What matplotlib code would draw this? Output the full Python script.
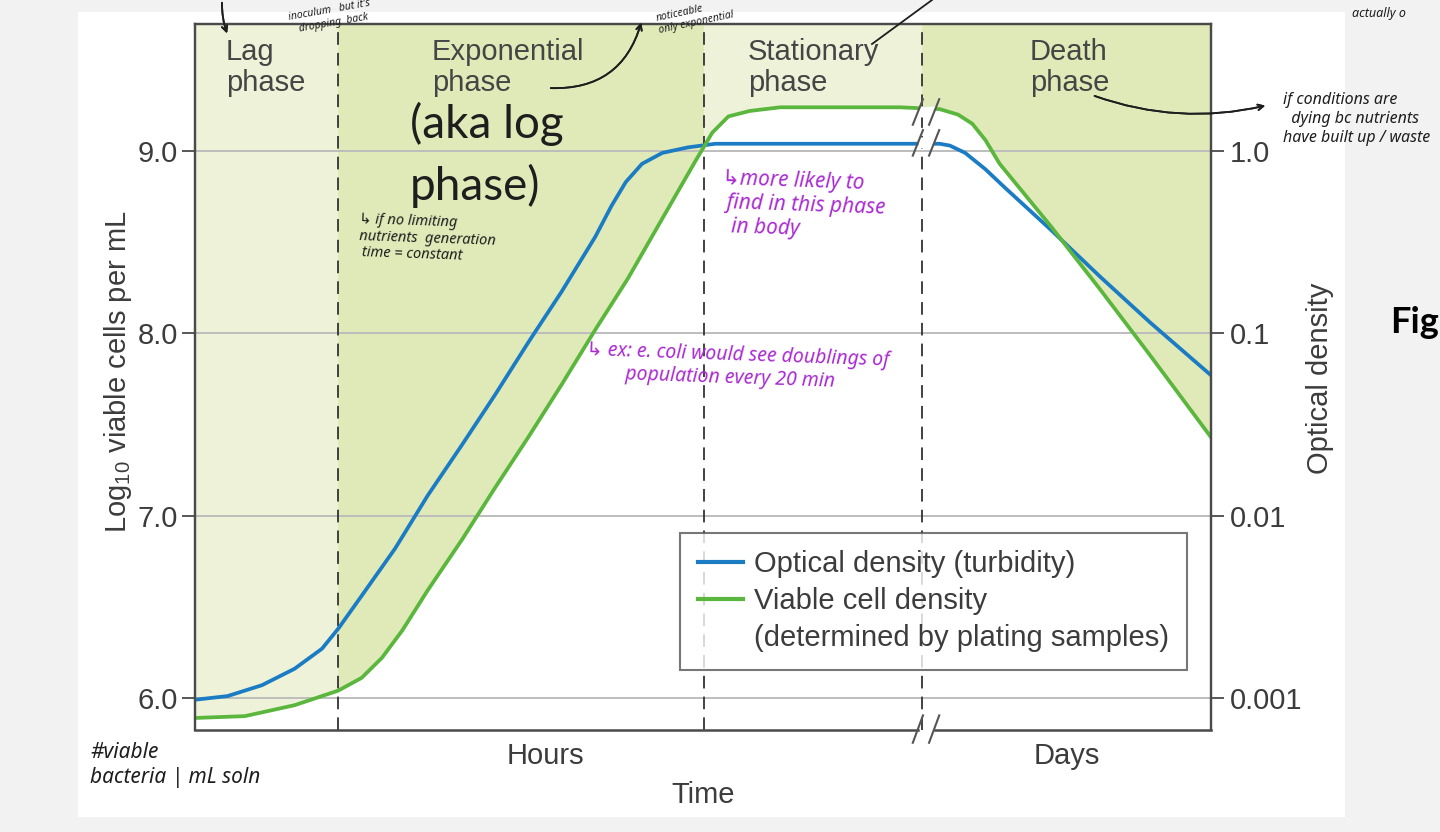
import numpy as np
import matplotlib.pyplot as plt
from matplotlib.lines import Line2D
from matplotlib.patches import Rectangle, Polygon

plt.rcParams['font.family'] = ['Liberation Sans', 'DejaVu Sans']
plt.rcParams['mathtext.default'] = 'regular'

W, H = 1440, 832

# time in arbitrary units (0-100), hours then days after the break
phase_edges = [0, 14.1, 50.1, 71.6, 100]
phase_names = ["Lag\nphase", "Exponential\nphase", "Stationary\nphase", "Death\nphase"]
phase_shade = ["#edf2d8", "#e0eab8", "#edf2d8", "#e0eab8"]

od_t = [0.0, 3.2, 6.6, 9.8, 12.5, 14.1, 16.4, 19.7, 22.9, 26.3, 29.5, 32.8, 36.1,
        39.4, 41.0, 42.4, 44.0, 46.0, 48.5, 51.2, 60.0, 73.3, 74.3, 75.8, 77.8, 79.7,
        84.2, 89.1, 94.0, 100.0]
od_y = [5.99, 6.01, 6.07, 6.16, 6.27, 6.38, 6.56, 6.82, 7.11, 7.39, 7.66, 7.95, 8.23,
        8.53, 8.70, 8.83, 8.93, 8.99, 9.02, 9.04, 9.04, 9.04, 9.03, 8.99, 8.90, 8.80,
        8.57, 8.31, 8.06, 7.77]

# viable cell density (plate counts)
via_t = [0.0, 4.9, 9.8, 14.1, 16.4, 18.4, 20.4, 22.9, 26.3, 29.5, 32.8, 36.1, 39.4,
         42.6, 46.0, 49.2, 50.9, 52.5, 54.6, 57.6, 69.4, 73.3, 75.1, 76.5, 77.8,
         79.2, 84.2, 89.1, 94.0, 100.0]
via_y = [5.89, 5.90, 5.96, 6.04, 6.11, 6.22, 6.37, 6.59, 6.87, 7.15, 7.43, 7.72, 8.02,
         8.30, 8.63, 8.94, 9.10, 9.19, 9.22, 9.24, 9.24, 9.23, 9.20, 9.15, 9.06,
         8.93, 8.59, 8.24, 7.88, 7.43]

left_ticks = [6.0, 7.0, 8.0, 9.0]
right_labels = ["0.001", "0.01", "0.1", "1.0"]

blue = "#1b7cc4"
green = "#5ab63c"
txt = "#3c3c3c"
purple = "#a82bd0"
ink = "#1e1e1e"
YMIN, YMAX = 5.824, 9.697
FS = 21


def fx(px):
    return px / W


def fy(py):
    return 1 - py / H


fig = plt.figure(figsize=(14.4, 8.32), dpi=100, facecolor="#f2f2f2")
fig.patches.append(Rectangle((fx(78), fy(817)), (1345 - 78) / W, (817 - 12) / H,
                             transform=fig.transFigure, facecolor="white",
                             edgecolor="none", zorder=-10))

ax = fig.add_axes([fx(195), fy(730), 1016 / W, 706 / H])
ax.set_xlim(0, 100)
ax.set_ylim(YMIN, YMAX)

# phase shading above the viable count curve
for i in range(4):
    ax.axvspan(phase_edges[i], phase_edges[i + 1], color=phase_shade[i], lw=0, zorder=0)
ax.fill_between(via_t, via_y, YMIN, color="white", lw=0, zorder=1)

for t in left_ticks:
    ax.axhline(t, color="#bdbdbd", lw=1.4, zorder=2)
for e in phase_edges[1:4]:
    ax.axvline(e, color="#333333", lw=1.3, ls=(0, (7, 4.5)), zorder=2)

ax.plot(od_t, od_y, color=blue, lw=2.7, solid_joinstyle="round", zorder=4)
ax.plot(via_t, via_y, color=green, lw=2.7, solid_joinstyle="round", zorder=4)

# axis break marks on the curves
xb = phase_edges[3]
for yc in [np.interp(xb, via_t, via_y) - 0.02, np.interp(xb, od_t, od_y) + 0.005]:
    ax.add_patch(Polygon([(xb - 0.5, yc - 0.03), (xb - 0.2, yc + 0.03),
                          (xb + 1.3, yc + 0.03), (xb + 1.0, yc - 0.03)],
                         closed=True, color="white", lw=0, zorder=5))
    for dx in [-0.45, 1.15]:
        ax.plot([xb + dx - 0.5, xb + dx + 0.5], [yc - 0.07, yc + 0.07],
                color="#555555", lw=1.5, zorder=6)

# bottom spine with break
for a in ax.spines.values():
    a.set_color("#4a4a4a")
    a.set_linewidth(1.6)
ax.spines["bottom"].set_visible(False)
ax.plot([0, xb - 0.4], [YMIN, YMIN], color="#4a4a4a", lw=1.8, clip_on=False, zorder=7)
ax.plot([xb + 1.2, 100], [YMIN, YMIN], color="#4a4a4a", lw=1.8, clip_on=False, zorder=7)
for dx in [-0.45, 1.15]:
    ax.plot([xb + dx - 0.5, xb + dx + 0.5], [YMIN - 0.07, YMIN + 0.08],
            color="#555555", lw=1.5, clip_on=False, zorder=7)

ax.set_xticks([])
ax.set_yticks(left_ticks)
ax.set_yticklabels([f"{t:.1f}" for t in left_ticks])
ax.tick_params(axis="y", direction="out", length=9.5, width=1.3, color="#4a4a4a",
               labelcolor=txt, labelsize=FS, pad=3)

ax2 = ax.twinx()
ax2.set_ylim(YMIN, YMAX)
ax2.set_yticks(left_ticks)
ax2.set_yticklabels(right_labels)
ax2.tick_params(axis="y", direction="out", length=9.5, width=1.3, color="#4a4a4a",
                labelcolor=txt, labelsize=FS, pad=4)
for a in ax2.spines.values():
    a.set_color("#4a4a4a")
    a.set_linewidth(1.6)
ax2.spines["bottom"].set_visible(False)

handles = [Line2D([], [], color=blue, lw=3), Line2D([], [], color=green, lw=3),
           Line2D([], [], color="none")]
labels = ["Optical density (turbidity)", "Viable cell density",
          "(determined by plating samples)"]
leg = ax2.legend(handles, labels, loc="upper left",
                 bbox_to_anchor=((680 - 195) / 1016, (730 - 533) / 706),
                 fontsize=FS, frameon=True, fancybox=False, handlelength=1.55,
                 handletextpad=0.4, labelspacing=0.3, borderpad=0.6,
                 borderaxespad=0)
leg.get_frame().set_edgecolor("#555555")
leg.get_frame().set_linewidth(1.5)
for t in leg.get_texts():
    t.set_color(txt)

# phase titles
for name, px in zip(phase_names, [226, 432, 748, 1030]):
    fig.text(fx(px), fy(38), name, ha="left", va="top", fontsize=FS,
             color="#454545", linespacing=1.12)

fig.text(fx(118), fy(372), "Log$_{10}$ viable cells per mL", rotation=90,
         ha="center", va="center", fontsize=FS, color=txt)
fig.text(fx(1320), fy(378), "Optical density", rotation=90,
         ha="center", va="center", fontsize=FS, color=txt)
fig.text(fx(545), fy(756), "Hours", ha="center", va="center", fontsize=FS, color=txt)
fig.text(fx(1067), fy(756), "Days", ha="center", va="center", fontsize=FS, color=txt)
fig.text(fx(703), fy(795), "Time", ha="center", va="center", fontsize=FS, color=txt)

# typed and handwritten notes
fig.text(fx(410), fy(102), "(aka log\nphase)", ha="left", va="top", fontsize=33,
         family=["Lato", "DejaVu Sans"], color=ink, linespacing=1.5)
hand = dict(family=["Noto Sans", "DejaVu Sans"], style="italic")
fig.text(fx(358), fy(212), "\u21b3 if no limiting\nnutrients  generation\n time = constant",
         ha="left", va="top", fontsize=10.5, color=ink, linespacing=1.15,
         rotation=-2, **hand)
fig.text(fx(720), fy(168), "\u21b3more likely to\n find in this phase\n  in body",
         ha="left", va="top", fontsize=15, color=purple, linespacing=1.2,
         rotation=-2, **hand)
fig.text(fx(585), fy(340), "\u21b3 ex: e. coli would see doublings of\n"
         "        population every 20 min", ha="left", va="top", fontsize=14,
         color=purple, linespacing=1.2, rotation=-2, **hand)
fig.text(fx(1283), fy(92), "if conditions are\n  dying bc nutrients\nhave built up / waste",
         ha="left", va="top", fontsize=11.5, color=ink, linespacing=1.25, **hand)
fig.text(fx(90), fy(742), "#viable\nbacteria | mL soln", ha="left", va="top",
         fontsize=15, color=ink, linespacing=1.25, **hand)
fig.text(fx(655), fy(17), "noticeable\nonly exponential", ha="left", va="center",
         fontsize=7.5, color=ink, rotation=12, **hand)
fig.text(fx(288), fy(17), "inoculum   but it's\n   dropping  back", ha="left", va="center",
         fontsize=7.5, color=ink, rotation=10, **hand)
fig.text(fx(1352), fy(14), "actually o", ha="left", va="center", fontsize=9,
         color=ink, **hand)
fig.text(fx(1390), fy(322), "Fig", ha="left", va="center", fontsize=26,
         fontweight="bold", color="black", family=["Lato", "DejaVu Sans"])

arrow = dict(arrowstyle="->", color=ink, lw=1.3)
fig.add_artist(plt.annotate("", xy=(fx(1268), fy(105)), xytext=(fx(1092), fy(95)),
                            xycoords="figure fraction", textcoords="figure fraction",
                            arrowprops=dict(connectionstyle="arc3,rad=0.15", **arrow)))
fig.add_artist(plt.annotate("", xy=(fx(642), fy(20)), xytext=(fx(548), fy(88)),
                            xycoords="figure fraction", textcoords="figure fraction",
                            arrowprops=dict(connectionstyle="arc3,rad=0.4", **arrow)))
fig.add_artist(plt.annotate("", xy=(fx(228), fy(36)), xytext=(fx(222), fy(0)),
                            xycoords="figure fraction", textcoords="figure fraction",
                            arrowprops=dict(connectionstyle="arc3,rad=0.1", **arrow)))
fig.add_artist(Line2D([fx(872), fx(932)], [fy(44), fy(0)], color=ink, lw=1.3,
                      transform=fig.transFigure))

fig.savefig("out.png", dpi=100, facecolor=fig.get_facecolor())
